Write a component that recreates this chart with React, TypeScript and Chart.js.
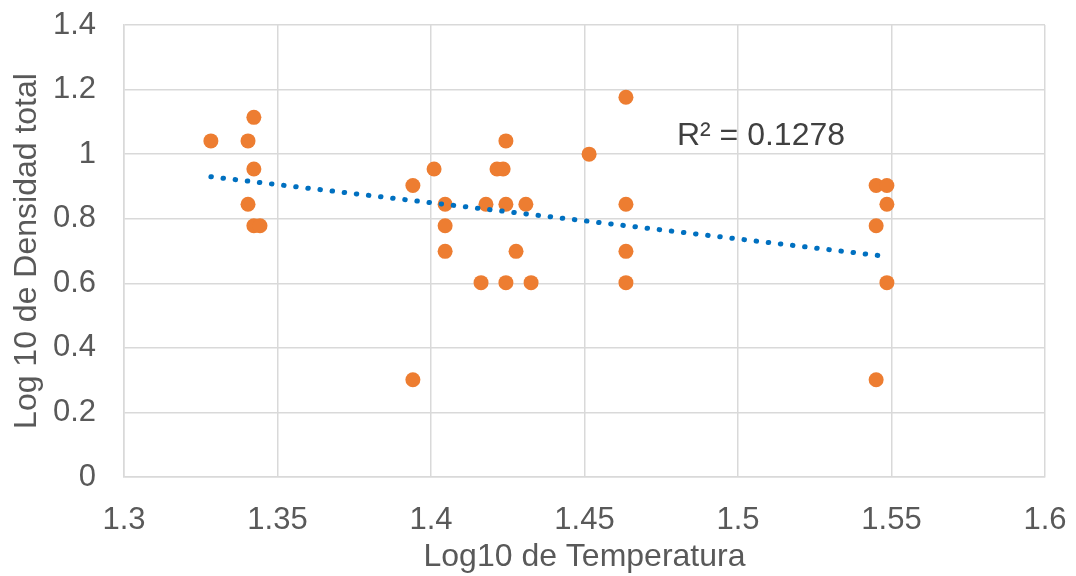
import React, { useEffect, useRef } from "react";
import { Chart, registerables } from "chart.js";

Chart.register(...registerables);

// Log10 of temperature (x) and Log10 of total density (y)
const tempLog: number[] = [
  1.3283, 1.3404, 1.3423, 1.3423, 1.3404, 1.3423, 1.3443,
  1.3941, 1.3941, 1.4010, 1.4046, 1.4046, 1.4046,
  1.4163, 1.4179, 1.4215, 1.4235, 1.4244, 1.4244, 1.4244,
  1.4277, 1.4309, 1.4326, 1.4515,
  1.4635, 1.4635, 1.4635, 1.4635,
  1.5450, 1.5485, 1.5485, 1.5450, 1.5485, 1.5450,
];
const densLog: number[] = [
  1.041, 1.041, 1.114, 0.954, 0.845, 0.778, 0.778,
  0.903, 0.301, 0.954, 0.845, 0.778, 0.699,
  0.602, 0.845, 0.954, 0.954, 1.041, 0.845, 0.602,
  0.699, 0.845, 0.602, 1.0,
  1.176, 0.845, 0.699, 0.602,
  0.903, 0.903, 0.845, 0.778, 0.602, 0.301,
];
// Linear trendline endpoints
const trendX: number[] = [1.3283, 1.5485];
const trendY: number[] = [0.930, 0.683];
const r2Label = "R² = 0.1278";
const xTitle = "Log10 de Temperatura";
const yTitle = "Log 10 de Densidad total";

export default function App() {
  const ref = useRef<HTMLCanvasElement | null>(null);
  useEffect(() => {
    document.body.style.margin = "0";
    const trend = trendX.map((x, i) => ({ x, y: trendY[i] }));
    const points = tempLog.map((x, i) => ({ x, y: densLog[i] }));
    const font = "'Liberation Sans', Arial, sans-serif";

    const r2Plugin = {
      id: "r2",
      afterDatasetsDraw(chart: any) {
        const { ctx, scales } = chart;
        ctx.save();
        ctx.font = `32px ${font}`;
        ctx.fillStyle = "#404040";
        ctx.textAlign = "left";
        ctx.textBaseline = "middle";
        ctx.fillText(r2Label, scales.x.getPixelForValue(1.4801), scales.y.getPixelForValue(1.056));
        ctx.restore();
      },
    };

    const chart = new Chart(ref.current!, {
      type: "scatter",
      data: {
        datasets: [
          {
            type: "line",
            data: trend,
            borderColor: "#0070C0",
            borderWidth: 5,
            borderDash: [0.5, 11.7],
            borderCapStyle: "round",
            pointRadius: 0,
            fill: false,
            order: 1,
          } as any,
          {
            data: points,
            backgroundColor: "#ED7D31",
            borderColor: "#ED7D31",
            pointRadius: 7.5,
            borderWidth: 0,
            order: 2,
          },
        ],
      },
      plugins: [r2Plugin],
      options: {
        animation: false,
        responsive: false,
        maintainAspectRatio: false,
        layout: { padding: { top: 25, right: 31, bottom: 0, left: 0 } },
        plugins: { legend: { display: false }, tooltip: { enabled: false } },
        scales: {
          x: {
            type: "linear",
            min: 1.3,
            max: 1.6,
            ticks: {
              stepSize: 0.05,
              color: "#595959",
              font: { size: 31, family: font },
              padding: 25,
              callback: (v: any) => String(Number(Number(v).toFixed(2))),
            },
            grid: { color: "#d9d9d9", lineWidth: 1.5, drawTicks: false },
            border: { color: "#d9d9d9", width: 1.5 },
            title: {
              display: true,
              text: xTitle,
              color: "#595959",
              font: { size: 32, family: font },
              padding: { top: 0, bottom: 0 },
            },
            afterFit: (s: any) => {
              s.height = 99;
              s.paddingLeft = 0;
              s.paddingRight = 0;
            },
          },
          y: {
            type: "linear",
            min: 0,
            max: 1.4,
            ticks: {
              stepSize: 0.2,
              color: "#595959",
              font: { size: 31, family: font },
              padding: 28,
              callback: (v: any) => String(Number(Number(v).toFixed(2))),
            },
            grid: { color: "#d9d9d9", lineWidth: 1.5, drawTicks: false },
            border: { color: "#d9d9d9", width: 1.5 },
            title: {
              display: true,
              text: yTitle,
              color: "#595959",
              font: { size: 32, family: font },
              padding: { top: 8, bottom: 0 },
            },
            afterFit: (s: any) => {
              s.width = 124;
              s.paddingTop = 0;
              s.paddingBottom = 0;
            },
          },
        },
      },
    });
    return () => chart.destroy();
  }, []);
  return (
    <div style={{ width: 1076, height: 576, background: "#fff" }}>
      <canvas ref={ref} width={1076} height={576} style={{ display: "block" }} />
    </div>
  );
}
